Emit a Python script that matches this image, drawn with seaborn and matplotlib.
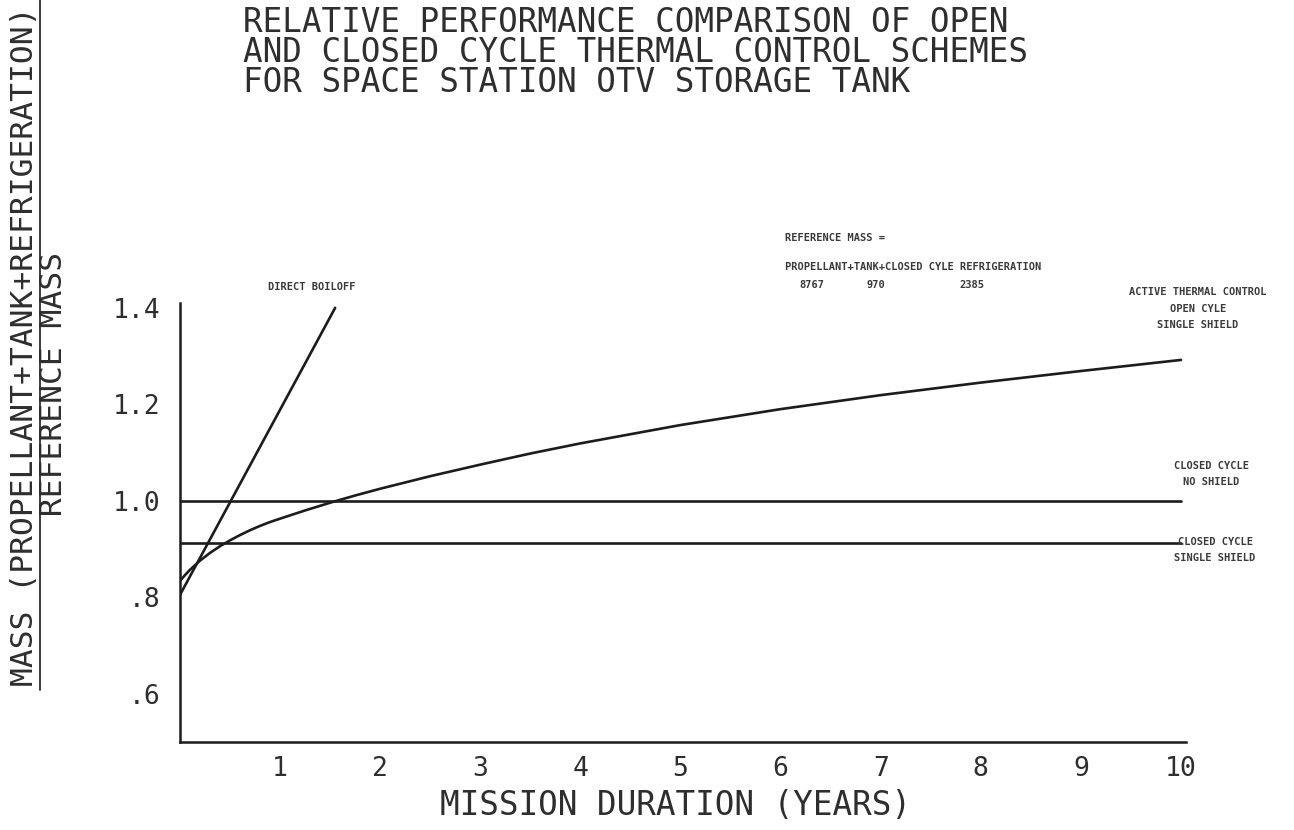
import matplotlib
matplotlib.use("Agg")
import matplotlib.pyplot as plt
from matplotlib.lines import Line2D
import seaborn as sns
import pandas as pd

# ---- data ----
open_cycle_x = [0, 0.05, 0.1, 0.2, 0.3, 0.4, 0.5, 0.6, 0.7, 0.8, 0.9, 1.0, 1.25, 1.5,
                1.75, 2, 2.5, 3, 3.5, 4, 5, 6, 7, 8, 9, 10]
open_cycle_y = [0.834, 0.846, 0.857, 0.876, 0.892, 0.906, 0.918, 0.929, 0.939, 0.948,
                0.956, 0.963, 0.980, 0.996, 1.011, 1.025, 1.051, 1.075, 1.098, 1.119,
                1.157, 1.19, 1.219, 1.245, 1.269, 1.292]
boiloff_x = [0, 1.55]
boiloff_y = [0.805, 1.40]
closed_no_shield_x = [0, 10]
closed_no_shield_y = [1.0, 1.0]
closed_single_x = [0, 10]
closed_single_y = [0.913, 0.913]

x_ticks = [1, 2, 3, 4, 5, 6, 7, 8, 9, 10]
x_tick_labels = ["1", "2", "3", "4", "5", "6", "7", "8", "9", "10"]
y_ticks = [0.6, 0.8, 1.0, 1.2, 1.4]
y_tick_labels = [".6", ".8", "1.0", "1.2", "1.4"]

title_lines = ["RELATIVE PERFORMANCE COMPARISON OF OPEN",
               "AND CLOSED CYCLE THERMAL CONTROL SCHEMES",
               "FOR SPACE STATION OTV STORAGE TANK"]
ylabel_num = "MASS (PROPELLANT+TANK+REFRIGERATION)"
ylabel_den = "REFERENCE MASS"
xlabel = "MISSION DURATION (YEARS)"

sns.set_style("white")
plt.rcParams['font.family'] = ['DejaVu Sans Mono', 'DejaVu Sans']

W, H = 1294, 830
fig = plt.figure(figsize=(W / 100, H / 100), dpi=100)
ax = fig.add_axes([180 / W, 1 - 742 / H, (1186 - 180) / W, (742 - 303) / H])

line_color = "#1c1c1c"
text_color = "#2e2e2e"
lw = 1.9

series = [
    ("open", open_cycle_x, open_cycle_y),
    ("boiloff", boiloff_x, boiloff_y),
    ("no_shield", closed_no_shield_x, closed_no_shield_y),
    ("single", closed_single_x, closed_single_y),
]
frames = []
for name, xs, ys in series:
    frames.append(pd.DataFrame({"x": xs, "y": ys, "series": name}))
df = pd.concat(frames, ignore_index=True)

for name, _, _ in series:
    sub = df[df["series"] == name]
    sns.lineplot(data=sub, x="x", y="y", ax=ax, color=line_color, linewidth=lw,
                 sort=False, estimator=None, legend=False)

ax.set_xlim(0, 10.05)
ax.set_ylim(0.5, 1.41)
sns.despine(ax=ax, top=True, right=True)
for s in ["left", "bottom"]:
    ax.spines[s].set_color(line_color)
    ax.spines[s].set_linewidth(1.8)

ax.set_xticks(x_ticks)
ax.set_xticklabels(x_tick_labels)
ax.set_yticks(y_ticks)
ax.set_yticklabels(y_tick_labels)
ax.tick_params(axis="both", direction="in", length=6, width=1.5, colors=line_color,
               labelcolor=text_color, labelsize=19)
ax.tick_params(axis="x", pad=10)
ax.tick_params(axis="y", pad=14)
ax.set_xlabel("")
ax.set_ylabel("")

# ---- annotations ----
small = dict(fontsize=7.5, fontweight="bold", color="#3a3a3a", clip_on=False,
             family=['DejaVu Sans Mono'], linespacing=1.75)
ax.text(0.876, 1.443, "DIRECT BOILOFF", ha="left", va="center", **small)
ax.text(6.04, 1.545, "REFERENCE MASS =", ha="left", va="center", **small)
ax.text(6.04, 1.485, "PROPELLANT+TANK+CLOSED CYLE REFRIGERATION", ha="left", va="center", **small)
ax.text(6.19, 1.447, "8767", ha="left", va="center", **small)
ax.text(6.86, 1.447, "970", ha="left", va="center", **small)
ax.text(7.79, 1.447, "2385", ha="left", va="center", **small)
ax.text(9.48, 1.433, "ACTIVE THERMAL CONTROL", ha="left", va="center", **small)
ax.text(10.17, 1.381, "OPEN CYLE\nSINGLE SHIELD", ha="center", va="center",
        multialignment="center", **small)
ax.text(10.30, 1.056, "CLOSED CYCLE\nNO SHIELD", ha="center", va="center",
        multialignment="center", **small)
ax.text(10.34, 0.897, "CLOSED CYCLE\nSINGLE SHIELD", ha="center", va="center",
        multialignment="center", **small)

# ---- title ----
fig.text(243 / W, 1 - 6 / H, "\n".join(title_lines), ha="left", va="top",
         fontsize=23.5, color=text_color, linespacing=0.89)

# ---- x label ----
fig.text(676 / W, 1 - 815 / H, xlabel, ha="center", va="baseline",
         fontsize=23.5, color=text_color)

# ---- y label (fraction) ----
fig.text(39 / W, 1 - 686 / H, ylabel_num + "\n" + " " * 9 + ylabel_den, rotation=90,
         ha="center", va="bottom", multialignment="left", fontsize=22.5,
         color=text_color, linespacing=1.0)
fig.add_artist(Line2D([40 / W, 40 / W], [1.0, 1 - 690 / H], transform=fig.transFigure,
                      color=text_color, linewidth=1.3))

fig.savefig("out.png", dpi=100)
